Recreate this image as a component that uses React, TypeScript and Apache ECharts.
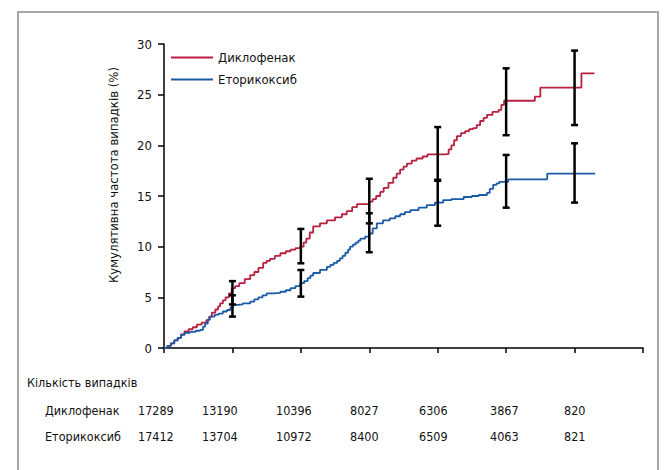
import React, { useEffect, useRef } from "react";
import * as echarts from "echarts";

const FONT = "'Liberation Sans Narrow', 'DejaVu Sans Condensed', 'Roboto', sans-serif";

const seriesNames = ["Диклофенак", "Еторикоксиб"];
const yAxisTitle = "Кумулятивна частота випадків (%)";
const tableTitle = "Кількість випадків";

// cumulative incidence curves: [time (tick units), %]
const diclofenacCurve: number[][] = [
  [0, 0], [0.05, 0.2], [0.1, 0.45], [0.15, 0.75], [0.2, 1.0], [0.25, 1.35], [0.3, 1.65], [0.36, 1.85],
  [0.42, 2.05], [0.48, 2.3], [0.55, 2.5], [0.62, 2.76], [0.66, 3.1], [0.7, 3.5], [0.75, 3.8],
  [0.79, 4.1], [0.82, 4.4], [0.86, 4.7], [0.9, 5.0], [0.95, 5.4], [0.99, 5.9], [1.04, 6.1],
  [1.1, 6.4], [1.18, 6.8], [1.26, 7.2], [1.32, 7.5], [1.38, 7.9], [1.45, 8.4], [1.5, 8.6],
  [1.55, 8.8], [1.62, 9.1], [1.7, 9.35], [1.78, 9.55], [1.85, 9.7], [1.92, 9.85], [1.99, 10.0],
  [2.04, 10.4], [2.08, 10.8], [2.13, 11.4], [2.18, 12.0], [2.28, 12.3], [2.38, 12.6], [2.5, 12.9],
  [2.6, 13.2], [2.67, 13.5], [2.75, 13.9], [2.82, 14.2], [3.0, 14.45], [3.05, 14.7], [3.1, 15.0],
  [3.16, 15.4], [3.21, 15.8], [3.28, 16.3], [3.35, 16.8], [3.4, 17.2], [3.45, 17.6], [3.5, 17.9],
  [3.55, 18.2], [3.62, 18.5], [3.69, 18.7], [3.78, 18.9], [3.85, 19.1], [4.11, 19.15], [4.16, 19.6],
  [4.2, 20.0], [4.24, 20.5], [4.28, 20.9], [4.34, 21.2], [4.4, 21.4], [4.46, 21.6], [4.52, 21.7],
  [4.57, 22.0], [4.62, 22.4], [4.67, 22.7], [4.72, 23.0], [4.8, 23.3], [4.89, 23.5], [4.93, 24.0],
  [4.97, 24.4], [5.42, 24.8], [5.5, 25.7], [6.1, 27.1], [6.29, 27.1],
];
const etoricoxibCurve: number[][] = [
  [0, 0], [0.05, 0.2], [0.1, 0.45], [0.15, 0.75], [0.2, 1.0], [0.25, 1.3], [0.3, 1.5],
  [0.38, 1.6], [0.46, 1.7], [0.53, 1.78], [0.57, 2.1], [0.6, 2.4], [0.64, 2.8], [0.67, 3.1],
  [0.74, 3.3], [0.8, 3.4], [0.86, 3.6], [0.92, 3.75], [0.97, 4.0], [1.01, 4.25], [1.08, 4.3],
  [1.15, 4.4], [1.26, 4.57], [1.32, 4.8], [1.38, 5.0], [1.44, 5.2], [1.5, 5.4], [1.6, 5.45],
  [1.7, 5.55], [1.78, 5.7], [1.85, 5.9], [1.92, 6.1], [1.99, 6.4], [2.05, 6.6], [2.1, 6.9],
  [2.14, 7.15], [2.18, 7.4], [2.28, 7.7], [2.38, 8.0], [2.43, 8.2], [2.48, 8.4], [2.53, 8.6],
  [2.57, 8.85], [2.61, 9.1], [2.65, 9.4], [2.69, 9.7], [2.72, 10.0], [2.76, 10.2], [2.8, 10.4],
  [2.84, 10.6], [2.87, 10.8], [2.94, 11.0], [3.0, 11.3], [3.05, 11.8], [3.11, 12.3], [3.2, 12.6],
  [3.3, 12.8], [3.38, 13.0], [3.45, 13.2], [3.52, 13.4], [3.6, 13.6], [3.72, 13.85], [3.84, 14.1],
  [3.96, 14.35], [4.08, 14.6], [4.2, 14.7], [4.38, 14.9], [4.5, 15.0], [4.6, 15.1], [4.72, 15.3],
  [4.76, 15.7], [4.81, 16.1], [4.86, 16.25], [4.9, 16.4], [5.03, 16.65], [5.6, 17.2], [6.3, 17.2],
];

// confidence intervals: [time, low, high]
const diclofenacCI: number[][] = [
  [1, 4.3, 6.6], [2, 8.36, 11.75], [3, 12.3, 16.7], [4, 16.5, 21.8], [5, 21.0, 27.6], [6, 22.0, 29.35],
];
const etoricoxibCI: number[][] = [
  [1, 3.1, 5.2], [2, 5.07, 7.7], [3, 9.45, 13.3], [4, 12.07, 16.6], [5, 13.85, 19.05], [6, 14.35, 20.2],
];

// numbers at risk
const diclofenacAtRisk = ["17289", "13190", "10396", "8027", "6306", "3867", "820"];
const etoricoxibAtRisk = ["17412", "13704", "10972", "8400", "6509", "4063", "821"];

const yTicks = { min: 0, max: 30, interval: 5 };
const xTicks = { min: 0, max: 7, interval: 1 };

// layout (pixels)
const tableColX = [138, 202, 276, 350, 419, 490, 564];

const RED = "#b8213f";
const BLUE = "#1a5aa6";

function errorBarSeries(data: number[][]) {
  return {
    type: "custom",
    data,
    z: 5,
    silent: true,
    renderItem: (params: any, api: any) => {
      const x = api.value(0);
      const lo = api.coord([x, api.value(1)]);
      const hi = api.coord([x, api.value(2)]);
      const w = 3.5;
      const style = { stroke: "#000", lineWidth: 2.5, fill: "none" };
      return {
        type: "group",
        children: [
          { type: "line", shape: { x1: lo[0], y1: lo[1], x2: hi[0], y2: hi[1] }, style },
          { type: "line", shape: { x1: hi[0] - w, y1: hi[1], x2: hi[0] + w, y2: hi[1] }, style },
          { type: "line", shape: { x1: lo[0] - w, y1: lo[1], x2: lo[0] + w, y2: lo[1] }, style },
        ],
      };
    },
    encode: { x: 0, y: [1, 2] },
  };
}

export default function App() {
  const ref = useRef<HTMLDivElement>(null);
  useEffect(() => {
    document.body.style.margin = "0";
    if (!ref.current) return;
    const chart = echarts.init(ref.current, undefined, { renderer: "svg" });
    const txt = { fontFamily: FONT, fontSize: 12.5, fill: "#111" };
    const tableText: any[] = [];
    tableText.push({ type: "text", left: 27, top: 376, style: { ...txt, text: tableTitle } });
    tableText.push({ type: "text", left: 45, top: 404, style: { ...txt, text: seriesNames[0] } });
    tableText.push({ type: "text", left: 45, top: 430, style: { ...txt, text: seriesNames[1] } });
    diclofenacAtRisk.forEach((v, i) =>
      tableText.push({ type: "text", left: tableColX[i], top: 404, style: { ...txt, text: v } })
    );
    etoricoxibAtRisk.forEach((v, i) =>
      tableText.push({ type: "text", left: tableColX[i], top: 430, style: { ...txt, text: v } })
    );

    chart.setOption({
      animation: false,
      backgroundColor: "#fff",
      grid: { left: 164, top: 44, right: 25, bottom: 122, containLabel: false },
      legend: {
        left: 166,
        top: 46,
        orient: "vertical",
        itemGap: 9,
        itemWidth: 42,
        itemHeight: 2,
        icon: "rect",
        textStyle: { fontFamily: FONT, fontSize: 13, color: "#111" },
        data: seriesNames,
      },
      xAxis: {
        type: "value",
        ...xTicks,
        axisLine: { lineStyle: { color: "#000", width: 1.5 } },
        axisTick: { show: true, length: 5, lineStyle: { color: "#000", width: 1.5 } },
        axisLabel: { show: false },
        splitLine: { show: false },
      },
      yAxis: {
        type: "value",
        ...yTicks,
        axisLine: { show: true, lineStyle: { color: "#000", width: 1.5 } },
        axisTick: { show: true, length: 6, lineStyle: { color: "#000", width: 1.5 } },
        axisLabel: { fontFamily: FONT, fontSize: 13, color: "#111", margin: 12 },
        splitLine: { show: false },
      },
      graphic: [
        {
          type: "rect",
          shape: { x: 18, y: 12, width: 640, height: 480 },
          style: { fill: "none", stroke: "#a8a8a8", lineWidth: 2 },
          silent: true,
        },
        {
          type: "text",
          x: 113,
          y: 175,
          rotation: Math.PI / 2,
          style: { ...txt, fontSize: 13, text: yAxisTitle, align: "center", verticalAlign: "middle" },
        },
        ...tableText,
      ],
      series: [
        {
          name: seriesNames[0],
          type: "line",
          step: "end",
          data: diclofenacCurve,
          showSymbol: false,
          lineStyle: { color: RED, width: 1.8 },
          itemStyle: { color: RED },
          z: 3,
        },
        {
          name: seriesNames[1],
          type: "line",
          step: "end",
          data: etoricoxibCurve,
          showSymbol: false,
          lineStyle: { color: BLUE, width: 1.8 },
          itemStyle: { color: BLUE },
          z: 3,
        },
        errorBarSeries(diclofenacCI),
        errorBarSeries(etoricoxibCI),
      ],
    });
    return () => chart.dispose();
  }, []);
  return <div ref={ref} style={{ width: 668, height: 470 }} />;
}
